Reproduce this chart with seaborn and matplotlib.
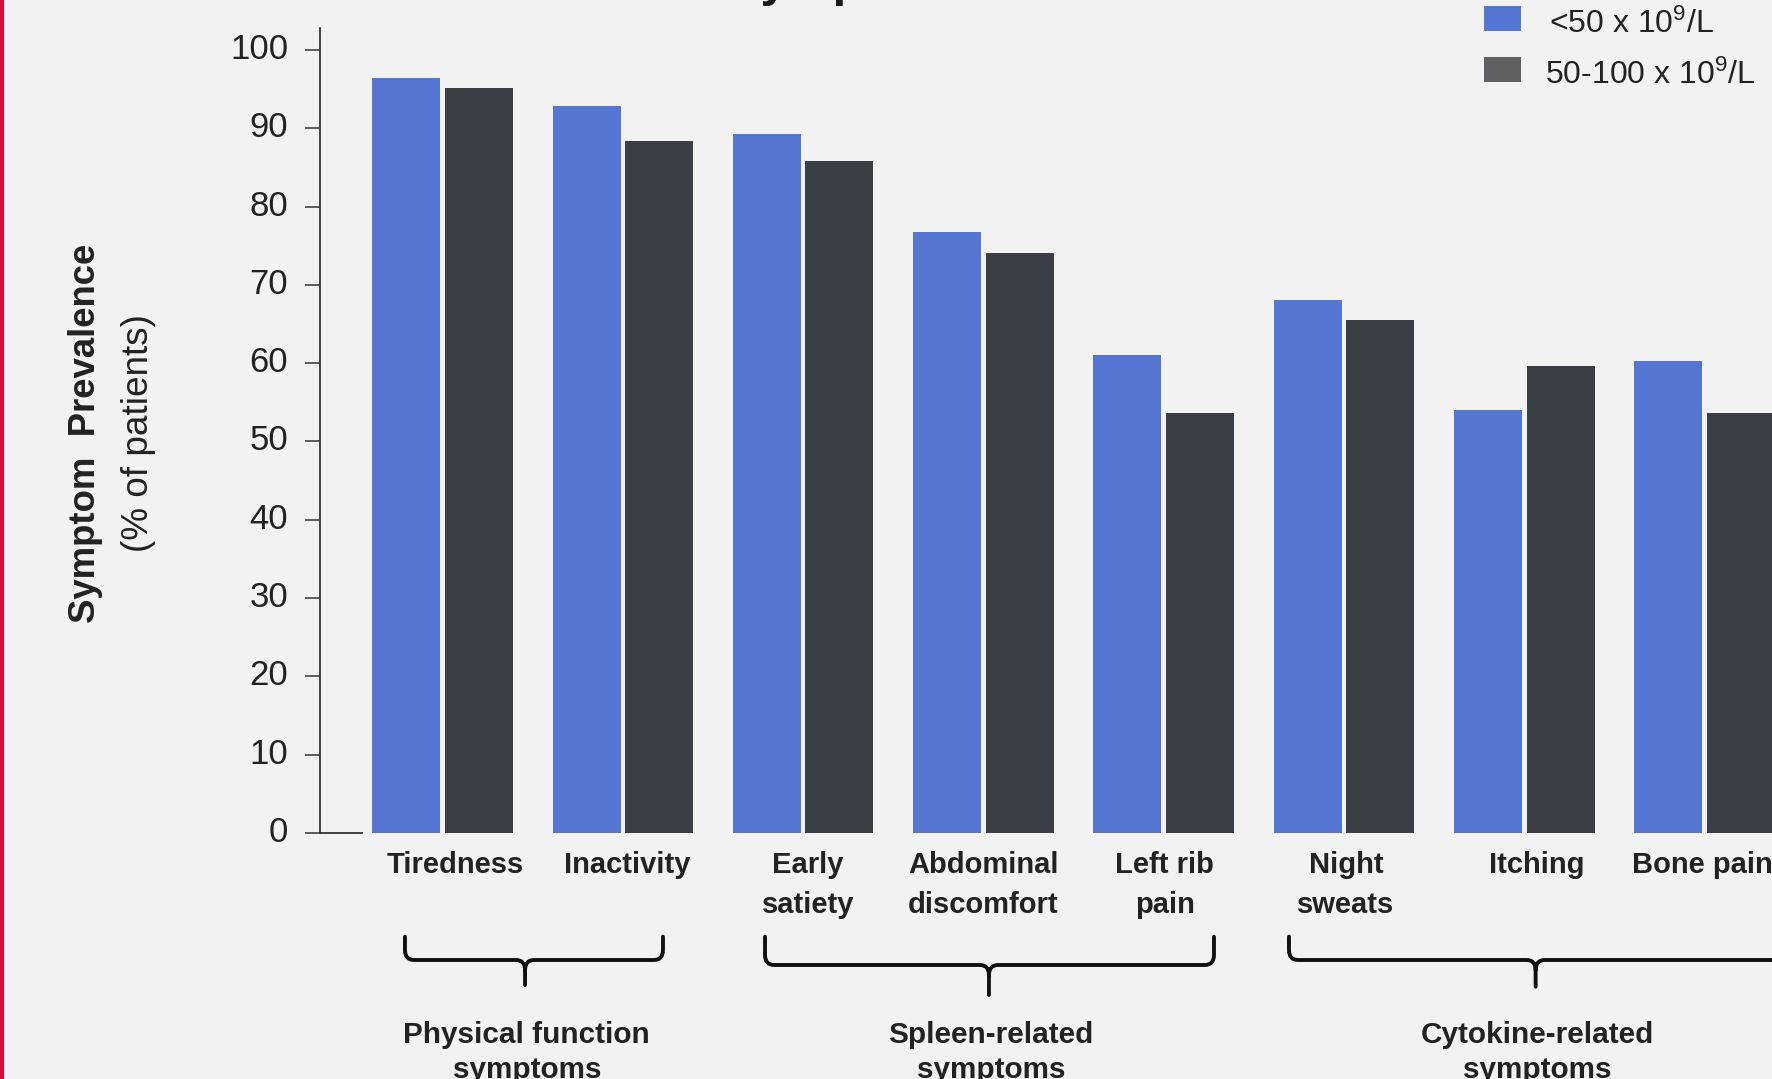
import matplotlib
matplotlib.use("Agg")
import matplotlib.pyplot as plt
import seaborn as sns
import pandas as pd
from matplotlib.path import Path
from matplotlib.patches import PathPatch, Rectangle
from matplotlib.transforms import blended_transform_factory, ScaledTranslation

# ---------------- data ----------------
symptoms = ["Tiredness", "Inactivity", "Early\nsatiety", "Abdominal\ndiscomfort",
            "Left rib\npain", "Night\nsweats", "Itching", "Bone pain"]
series_names = ["<50 x 10$^9$/L", "50-100 x 10$^9$/L"]
prev_low = [96.4, 92.9, 89.3, 76.8, 61.0, 68.1, 54.0, 60.3]   # <50 x 10^9/L
prev_mid = [95.1, 88.4, 85.8, 74.1, 53.6, 65.5, 59.6, 53.6]   # 50-100 x 10^9/L
y_ticks = [0, 10, 20, 30, 40, 50, 60, 70, 80, 90, 100]
group_labels = ["Physical function\nsymptoms", "Spleen-related\nsymptoms",
                "Cytokine-related\nsymptoms"]
title_text = "Symptom Prevalence"
ylabel_main = "Symptom  Prevalence"
ylabel_sub = "(% of patients)"

# ---------------- style ----------------
BG = "#F1F2F1"
BLUE = "#5577D3"
DARK = "#3A3F46"
LEG_DARK = "#5F6064"
TXT = "#222222"

sns.set_style("ticks")
plt.rcParams["font.family"] = ["Liberation Sans", "DejaVu Sans"]
plt.rcParams["mathtext.fontset"] = "custom"
plt.rcParams["mathtext.rm"] = "Liberation Sans"
plt.rcParams["mathtext.it"] = "Liberation Sans:italic"
plt.rcParams["mathtext.bf"] = "Liberation Sans:bold"
plt.rcParams["mathtext.default"] = "regular"

W, H = 1772, 1079
fig = plt.figure(figsize=(W / 100, H / 100), dpi=100)
fig.patch.set_facecolor(BG)

def fx(px):
    return px / W

def fy(py):
    return 1 - py / H

ax = fig.add_axes([fx(319.5), fy(833), 1 - fx(319.5), (833 - 28) / H])
ax.set_facecolor(BG)

df = pd.DataFrame({
    "Symptom": symptoms * 2,
    "Platelet count": [series_names[0]] * len(symptoms) + [series_names[1]] * len(symptoms),
    "Prevalence": prev_low + prev_mid,
})

sns.barplot(data=df, x="Symptom", y="Prevalence", hue="Platelet count",
            order=symptoms, hue_order=series_names, palette=[BLUE, DARK],
            saturation=1, width=0.804, gap=0.062, linewidth=0, legend=False, ax=ax)

ax.set_xlim(-0.682, 7.374)
ax.set_ylim(0, 102.8)
ax.set_yticks(y_ticks)
ax.set_xlabel("")
ax.set_ylabel("")

for s in ["top", "right"]:
    ax.spines[s].set_visible(False)
ax.spines["left"].set_color("#333333")
ax.spines["left"].set_linewidth(1.3)
ax.spines["bottom"].set_color("#333333")
ax.spines["bottom"].set_linewidth(1.3)
ax.spines["bottom"].set_bounds(-0.682, -0.446)

ax.tick_params(axis="y", direction="out", length=11, width=1.1, color="#333333",
               pad=11.5, labelsize=25, labelcolor=TXT)
for lab in ax.get_yticklabels():
    lab.set_transform(lab.get_transform() + ScaledTranslation(0, 0.04, fig.dpi_scale_trans))
ax.tick_params(axis="x", length=0, pad=13, labelsize=21, labelcolor=TXT)
label_shift_px = [13, 4, 5, 0, 1, 2, 12, -2]
for lab, dx in zip(ax.get_xticklabels(), label_shift_px):
    lab.set_fontweight("bold")
    lab.set_linespacing(1.55)
    lab.set_transform(lab.get_transform() + ScaledTranslation(dx / 100, 0, fig.dpi_scale_trans))

# y label (two styles)
fig.text(fx(86), fy(433), ylabel_main, rotation=90, ha="center", va="center",
         fontsize=26.3, fontweight="bold", color=TXT)
fig.text(fx(139), fy(433), ylabel_sub, rotation=90, ha="center", va="center",
         fontsize=26.6, color=TXT)

# clipped title at the very top
fig.text(fx(727), 1 + 3.5 / H, title_text, ha="left", va="baseline",
         fontsize=36, fontweight="bold", color="#1a1a1a")

# red accent line at left edge
fig.add_artist(Rectangle((0, 0), fx(4), 1, transform=fig.transFigure,
                         facecolor="#DA0A3C", edgecolor="none"))

# group braces
trans = blended_transform_factory(ax.transData, fig.transFigure)
brace_spans = [(-0.208, 0.458, 1.223), (1.789, 3.031, 4.279), (4.695, 6.063, 7.43)]
brace_y = [(936.7, 960, 985), (936.7, 965, 995), (936.7, 960, 986.7)]
rx = 0.05
for (xl, xt, xr), (yt, yh, yb) in zip(brace_spans, brace_y):
    ry = 10
    verts = [
        (xl, fy(yt)), (xl, fy(yh - ry)), (xl, fy(yh)), (xl + rx, fy(yh)),
        (xt - rx, fy(yh)), (xt, fy(yh)), (xt, fy(yh + ry)), (xt, fy(yb)),
        (xr, fy(yt)), (xr, fy(yh - ry)), (xr, fy(yh)), (xr - rx, fy(yh)),
        (xt + rx, fy(yh)), (xt, fy(yh)), (xt, fy(yh + ry)),
    ]
    codes = [
        Path.MOVETO, Path.LINETO, Path.CURVE3, Path.CURVE3,
        Path.LINETO, Path.CURVE3, Path.CURVE3, Path.LINETO,
        Path.MOVETO, Path.LINETO, Path.CURVE3, Path.CURVE3,
        Path.LINETO, Path.CURVE3, Path.CURVE3,
    ]
    ax.add_patch(PathPatch(Path(verts, codes), transform=trans, facecolor="none",
                           edgecolor="#111111", linewidth=2.8, clip_on=False,
                           capstyle="round", joinstyle="round"))

for (xl, xt, xr), lab in zip(brace_spans, group_labels):
    ax.text(xt + 0.01, fy(1021), lab, transform=trans, ha="center", va="top",
            fontsize=21.4, fontweight="bold", color=TXT, linespacing=1.34,
            clip_on=False)

# legend (manual, at top right)
leg_rows = [(series_names[0], BLUE, 6, 33.3, 1549), (series_names[1], LEG_DARK, 57.3, 84.5, 1545)]
for name, col, ytop, ybase, xt in leg_rows:
    fig.add_artist(Rectangle((fx(1484), fy(ytop + 24.5)), fx(36.7), 24.5 / H,
                             transform=fig.transFigure, facecolor=col, edgecolor="none"))
    fig.text(fx(xt), fy(ybase), name, ha="left", va="baseline", fontsize=23, color=TXT)

fig.savefig("out.png", dpi=100, facecolor=BG)
